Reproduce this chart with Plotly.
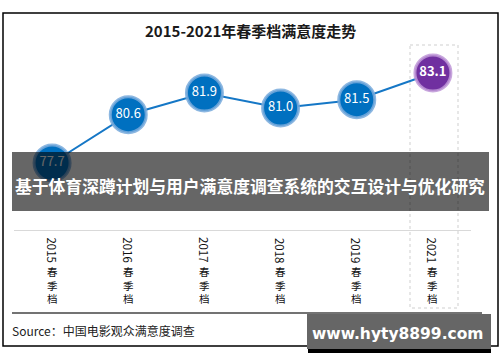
import plotly.graph_objects as go

# ---- data ----
years = ["2015", "2016", "2017", "2018", "2019", "2021"]
season_chars = ["春", "季", "档"]
season = "".join(season_chars)
categories = [y + season for y in years]
satisfaction = [77.7, 80.6, 81.9, 81.0, 81.5, 83.1]
highlight = "2021春季档"

title_text = "2015-2021年春季档满意度走势"
banner_text = "基于体育深蹲计划与用户满意度调查系统的交互设计与优化研究"
source_text = "Source：中国电影观众满意度调查"
watermark_text = "www.hyty8899.com"

W, H = 500, 362
CJK = "Noto Sans CJK SC, Noto Sans, sans-serif"


def px(x):
    return x / W


def py(y):
    return 1 - y / H


marker_colors = ["#7030A0" if c == highlight else "#0070C0" for c in categories]
ring_colors = ["rgba(190,150,215,0.85)" if c == highlight else "rgba(120,170,220,0.85)" for c in categories]
labels = [f"<b>{v:.1f}</b>" if c == highlight else f"{v:.1f}" for c, v in zip(categories, satisfaction)]

fig = go.Figure()
fig.add_trace(go.Scatter(
    x=categories, y=satisfaction,
    mode="lines+markers+text",
    line=dict(color="#1577C6", width=2),
    marker=dict(size=36, color=marker_colors, line=dict(color=ring_colors, width=3)),
    text=labels, textposition="middle center",
    textfont=dict(color="white", size=13, family=CJK),
    hoverinfo="skip", cliponaxis=False,
))

shapes = []
# outer frame
shapes.append(dict(type="rect", xref="paper", yref="paper", x0=px(3), x1=px(498), y0=py(13), y1=py(346),
                   line=dict(color="black", width=1.5), fillcolor="rgba(0,0,0,0)", layer="below"))
# highlight box for 2021
shapes.append(dict(type="rect", xref="paper", yref="paper", x0=px(410), x1=px(458), y0=py(45), y1=py(308),
                   line=dict(color="#cfcfcf", width=1, dash="dot"), fillcolor="rgba(0,0,0,0)", layer="below"))
# bottom separator line
shapes.append(dict(type="line", xref="paper", yref="paper", x0=px(12), x1=px(482), y0=py(313), y1=py(313),
                   line=dict(color="#444444", width=1.5)))
# banner
shapes.append(dict(type="rect", xref="paper", yref="paper", x0=px(12), x1=px(489), y0=py(152), y1=py(211),
                   line=dict(width=0), fillcolor="rgba(0,0,0,0.6)", layer="above"))
# watermark shadow + box
shapes.append(dict(type="rect", xref="paper", yref="paper", x0=px(308), x1=px(491), y0=py(318), y1=py(353),
                   line=dict(width=0), fillcolor="black", layer="above"))
shapes.append(dict(type="rect", xref="paper", yref="paper", x0=px(307), x1=px(491), y0=py(314), y1=py(349),
                   line=dict(width=0), fillcolor="#666666", layer="above"))

annotations = []
annotations.append(dict(text=f"<b>{title_text}</b>", xref="paper", yref="paper", x=0.5, y=py(30),
                        showarrow=False, font=dict(size=15, color="#1a1a1a", family=CJK),
                        xanchor="center", yanchor="middle"))
annotations.append(dict(text=f"<b>{banner_text}</b>", xref="paper", yref="paper", x=px(250), y=py(186),
                        showarrow=False, font=dict(size=16.8, color="white", family=CJK),
                        xanchor="center", yanchor="middle"))
annotations.append(dict(text=source_text, xref="paper", yref="paper", x=px(10), y=py(330),
                        showarrow=False, font=dict(size=12, color="#222222", family=CJK),
                        xanchor="left", yanchor="middle"))
annotations.append(dict(text=f"<b>{watermark_text}</b>", xref="paper", yref="paper", x=px(398), y=py(334),
                        showarrow=False, font=dict(size=15.5, color="white", family="DejaVu Sans, sans-serif"),
                        xanchor="center", yanchor="middle"))
# category labels: year digits rotated, CJK characters stacked upright
for c, y in zip(categories, years):
    annotations.append(dict(text=y, x=c, xref="x", yref="paper", y=py(250.5), textangle=90,
                            showarrow=False, font=dict(size=11.5, color="#111111", family=CJK),
                            xanchor="center", yanchor="middle"))
    annotations.append(dict(text="<br>".join(season_chars), x=c, xref="x", yref="paper", y=py(285),
                            showarrow=False, font=dict(size=10.5, color="#111111", family=CJK),
                            xanchor="center", yanchor="middle"))

fig.update_layout(
    width=W, height=H,
    margin=dict(l=0, r=0, t=0, b=0),
    paper_bgcolor="white", plot_bgcolor="white",
    showlegend=False,
    shapes=shapes, annotations=annotations,
    xaxis=dict(domain=[px(14), px(471)], range=[-0.5, 5.5], type="category",
               showgrid=False, zeroline=False, showticklabels=False,
               showline=True, linecolor="#d9d9d9", linewidth=1, ticks=""),
    yaxis=dict(domain=[py(230), py(45)], range=[73.68, 84.78],
               showgrid=False, zeroline=False, showticklabels=False, showline=False, ticks=""),
)

fig.write_html("out.html", config={"displayModeBar": False},
               post_script="document.body.style.margin='0';")
